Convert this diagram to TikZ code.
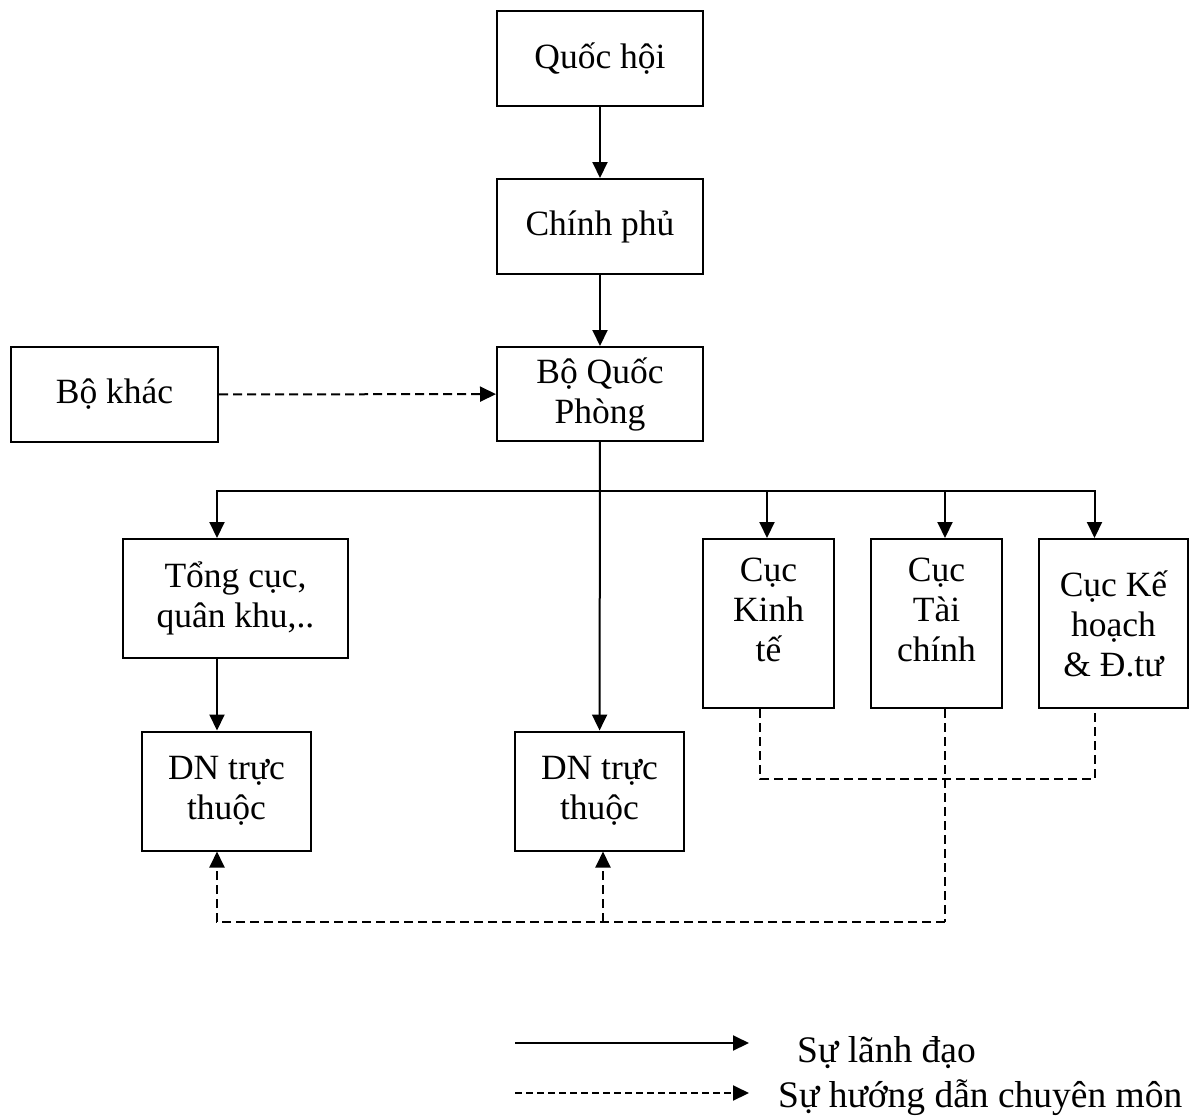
\documentclass[tikz,border=0pt]{standalone}
\usepackage{fontspec}
\setmainfont{Liberation Serif}
\usetikzlibrary{arrows.meta}
\begin{document}
\begin{tikzpicture}[x=1pt,y=-1pt,
  font=\fontsize{35.5}{40}\selectfont,
  box/.style={draw,line width=2pt,rectangle,align=center,inner sep=0pt},
  arr/.style={line width=2pt,-{Triangle[length=16pt,width=15pt]}},
  plain/.style={line width=2pt},
  dsh/.style={line width=2pt,dash pattern=on 9pt off 5pt},
  darr/.style={line width=2pt,dash pattern=on 9pt off 5pt,-{Triangle[length=16pt,width=15pt]}},
  ldarr/.style={line width=2pt,dash pattern=on 7pt off 4pt,-{Triangle[length=16pt,width=15pt]}},
  legtext/.style={anchor=base west,inner sep=0pt,font=\fontsize{37.5}{42}\selectfont}]
\useasboundingbox (0,0) rectangle (1194,1117);
\node[box,minimum width=206pt,minimum height=95pt] (qh) at (600,58.5) {Quốc hội};
\node[box,minimum width=206pt,minimum height=95pt] (cp) at (600,226.5) {Chính phủ};
\node[box,minimum width=206pt,minimum height=94pt] (bqp) at (600,394) {Bộ Quốc\\Phòng};
\node[box,minimum width=207pt,minimum height=95pt] (bk) at (114.5,394.5) {Bộ khác};
\node[box,minimum width=225pt,minimum height=119pt] (tc) at (235.5,598.5) {Tổng cục,\\quân khu,..};
\node[box,minimum width=131pt,minimum height=169pt] (kt) at (768.5,623.5) {Cục\\Kinh\\tế\\[-24pt]\strut};
\node[box,minimum width=131pt,minimum height=169pt] (tcf) at (936.5,623.5) {Cục\\Tài\\chính\\[-24pt]\strut};
\node[box,minimum width=149pt,minimum height=169pt] (kh) at (1113.5,623.5) {Cục Kế\\hoạch\\\& Đ.tư};
\node[box,minimum width=169pt,minimum height=119pt] (dn1) at (226.5,791) {DN trực\\thuộc};
\node[box,minimum width=169pt,minimum height=119pt] (dn2) at (599.5,791) {DN trực\\thuộc};
% leadership
\draw[arr] (qh) -- (cp);
\draw[arr] (cp) -- (bqp);
\draw[arr] (bqp) -- (dn2);
\coordinate (hub) at (600,491);
\draw[plain] ([xshift=-18.5pt]tc.north |- hub) -- ([xshift=-19pt]kh.north |- hub);
\draw[arr] (hub) -| ([xshift=-18.5pt]tc.north);
\draw[arr] (hub) -| ([xshift=-1.5pt]kt.north);
\draw[arr] (hub) -| ([xshift=8.5pt]tcf.north);
\draw[arr] (hub) -| ([xshift=-19pt]kh.north);
\draw[arr] ([xshift=-18.5pt]tc.south) -- ([xshift=-9.5pt]dn1.north);
% guidance
\draw[darr] (bk) -- (bqp);
\coordinate (up) at (760,779);
\draw[dsh] ([xshift=-8.5pt]kt.south) |- (up) -| ([xshift=-19pt]kh.south);
\coordinate (low) at (945,922);
\draw[dsh] ([xshift=8.5pt]tcf.south) -- (low);
\draw[darr] (low) -| ([xshift=-9.5pt]dn1.south);
\draw[darr] ([xshift=3.5pt]dn2.south |- low) -- ([xshift=3.5pt]dn2.south);
% legend
\coordinate (l1a) at (515,1043);
\coordinate (l1b) at (749,1043);
\coordinate (l2a) at (515,1093);
\coordinate (l2b) at (749,1093);
\draw[arr] (l1a) -- (l1b);
\draw[ldarr] (l2a) -- (l2b);
\node[legtext] (l1t) at (797,1062) {Sự lãnh đạo};
\node[legtext] (l2t) at (778,1107) {Sự hướng dẫn chuyên môn};
\end{tikzpicture}
\end{document}
